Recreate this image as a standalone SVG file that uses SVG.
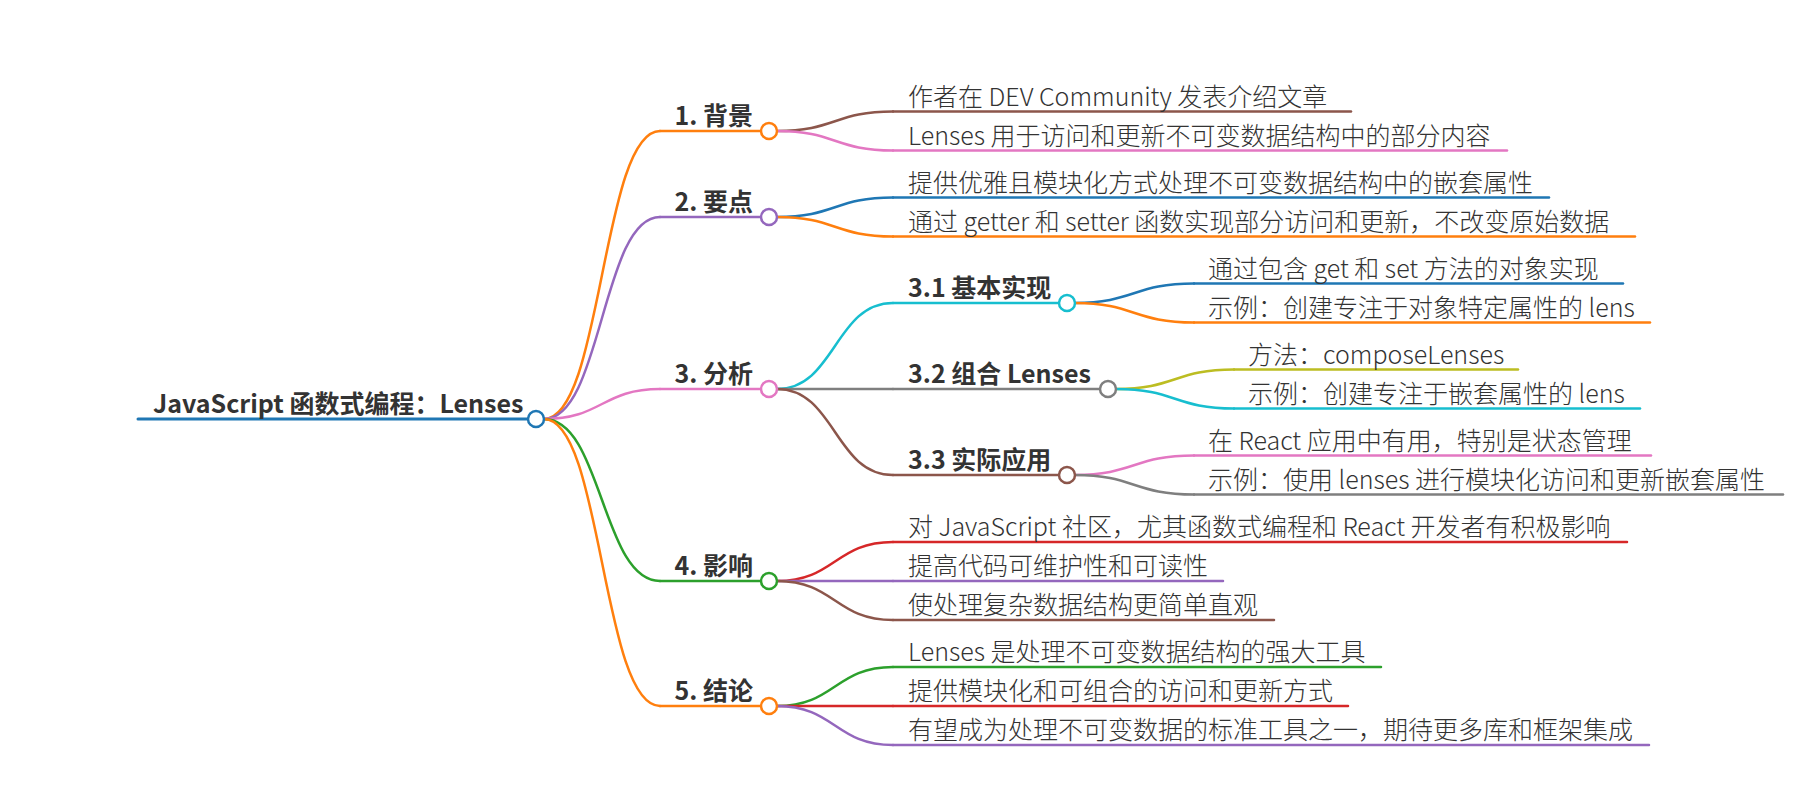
<svg xmlns="http://www.w3.org/2000/svg" width="1800" height="800" viewBox="0 0 1800 800">
<style>
text { font-family: "Noto Sans CJK SC", "Noto Sans", sans-serif; fill: #333; }
.b { font-weight: bold; font-size: 25px; }
.r { font-weight: bold; font-size: 25px; }
.l { font-size: 25px; font-weight: 300; }
.ln { fill: none; stroke-width: 2.5; stroke-linecap: round; }
.dot { fill: #fff; stroke-width: 2.5; }
.c-orange { stroke: #ff7f0e; } .c-purple { stroke: #9467bd; } .c-pink { stroke: #e377c2; }
.c-green { stroke: #2ca02c; } .c-blue { stroke: #1f77b4; } .c-brown { stroke: #8c564b; }
.c-cyan { stroke: #17becf; } .c-gray { stroke: #7f7f7f; } .c-olive { stroke: #bcbd22; } .c-red { stroke: #d62728; }
</style>
<rect width="1800" height="800" fill="#fff"/>
<g id="connectors">
  <path class="ln c-orange" d="M544 419 C602 419 602 131 660 131"/>
  <path class="ln c-purple" d="M544 419 C602 419 602 217 660 217"/>
  <path class="ln c-pink" d="M544 419 C602 419 602 389 660 389"/>
  <path class="ln c-green" d="M544 419 C602 419 602 581 660 581"/>
  <path class="ln c-orange" d="M544 419 C602 419 602 706 660 706"/>
  <path class="ln c-brown" d="M777 131 C835 131 835 111.5 893 111.5"/>
  <path class="ln c-pink" d="M777 131 C835 131 835 150.5 893 150.5"/>
  <path class="ln c-blue" d="M777 217 C835 217 835 197.5 893 197.5"/>
  <path class="ln c-orange" d="M777 217 C835 217 835 236.5 893 236.5"/>
  <path class="ln c-cyan" d="M777 389 C835 389 835 303 893 303"/>
  <path class="ln c-gray" d="M777 389 C835 389 835 389 893 389"/>
  <path class="ln c-brown" d="M777 389 C835 389 835 475 893 475"/>
  <path class="ln c-blue" d="M1075 303 C1134 303 1134 283.5 1194 283.5"/>
  <path class="ln c-orange" d="M1075 303 C1134 303 1134 322.5 1194 322.5"/>
  <path class="ln c-olive" d="M1116 389 C1175 389 1175 369.5 1234 369.5"/>
  <path class="ln c-cyan" d="M1116 389 C1175 389 1175 408.5 1234 408.5"/>
  <path class="ln c-pink" d="M1075 475 C1134 475 1134 455.5 1194 455.5"/>
  <path class="ln c-gray" d="M1075 475 C1134 475 1134 494.5 1194 494.5"/>
  <path class="ln c-red" d="M777 581 C835 581 835 542 893 542"/>
  <path class="ln c-purple" d="M777 581 L893 581"/>
  <path class="ln c-brown" d="M777 581 C835 581 835 620 893 620"/>
  <path class="ln c-green" d="M777 706 C835 706 835 667 893 667"/>
  <path class="ln c-red" d="M777 706 L893 706"/>
  <path class="ln c-purple" d="M777 706 C835 706 835 745 893 745"/>
</g>
<g id="root">
  <line class="ln c-blue" x1="138" y1="419" x2="528" y2="419" style="stroke-width:3"/>
  <text class="r" x="153" y="413">JavaScript 函数式编程：Lenses</text>
  <circle class="dot c-blue" cx="536" cy="419" r="8"/>
</g>
<g id="n1">
  <line class="ln c-orange" x1="660" y1="131" x2="761" y2="131"/>
  <text class="b" x="753" y="125" text-anchor="end">1. 背景</text>
  <circle class="dot c-orange" cx="769" cy="131" r="8"/>
</g>
<g id="n1a"><line class="ln c-brown" x1="893" y1="111.5" x2="1351" y2="111.5"/><text class="l" x="908" y="106">作者在 DEV Community 发表介绍文章</text></g>
<g id="n1b"><line class="ln c-pink" x1="893" y1="150.5" x2="1507" y2="150.5"/><text class="l" x="908" y="145">Lenses 用于访问和更新不可变数据结构中的部分内容</text></g>
<g id="n2">
  <line class="ln c-purple" x1="660" y1="217" x2="761" y2="217"/>
  <text class="b" x="753" y="211" text-anchor="end">2. 要点</text>
  <circle class="dot c-purple" cx="769" cy="217" r="8"/>
</g>
<g id="n2a"><line class="ln c-blue" x1="893" y1="197.5" x2="1549" y2="197.5"/><text class="l" x="908" y="192">提供优雅且模块化方式处理不可变数据结构中的嵌套属性</text></g>
<g id="n2b"><line class="ln c-orange" x1="893" y1="236.5" x2="1635" y2="236.5"/><text class="l" x="908" y="231">通过 getter 和 setter 函数实现部分访问和更新，不改变原始数据</text></g>
<g id="n3">
  <line class="ln c-pink" x1="660" y1="389" x2="761" y2="389"/>
  <text class="b" x="753" y="383" text-anchor="end">3. 分析</text>
  <circle class="dot c-pink" cx="769" cy="389" r="8"/>
</g>
<g id="n31">
  <line class="ln c-cyan" x1="893" y1="303" x2="1059" y2="303"/>
  <text class="b" x="908" y="297">3.1 基本实现</text>
  <circle class="dot c-cyan" cx="1067" cy="303" r="8"/>
</g>
<g id="n31a"><line class="ln c-blue" x1="1194" y1="283.5" x2="1623" y2="283.5"/><text class="l" x="1208" y="278">通过包含 get 和 set 方法的对象实现</text></g>
<g id="n31b"><line class="ln c-orange" x1="1194" y1="322.5" x2="1650" y2="322.5"/><text class="l" x="1208" y="317">示例：创建专注于对象特定属性的 lens</text></g>
<g id="n32">
  <line class="ln c-gray" x1="893" y1="389" x2="1100" y2="389"/>
  <text class="b" x="908" y="383">3.2 组合 Lenses</text>
  <circle class="dot c-gray" cx="1108" cy="389" r="8"/>
</g>
<g id="n32a"><line class="ln c-olive" x1="1234" y1="369.5" x2="1518" y2="369.5"/><text class="l" x="1248" y="364">方法：composeLenses</text></g>
<g id="n32b"><line class="ln c-cyan" x1="1234" y1="408.5" x2="1640" y2="408.5"/><text class="l" x="1248" y="403">示例：创建专注于嵌套属性的 lens</text></g>
<g id="n33">
  <line class="ln c-brown" x1="893" y1="475" x2="1059" y2="475"/>
  <text class="b" x="908" y="469">3.3 实际应用</text>
  <circle class="dot c-brown" cx="1067" cy="475" r="8"/>
</g>
<g id="n33a"><line class="ln c-pink" x1="1194" y1="455.5" x2="1651" y2="455.5"/><text class="l" x="1208" y="450">在 React 应用中有用，特别是状态管理</text></g>
<g id="n33b"><line class="ln c-gray" x1="1194" y1="494.5" x2="1783" y2="494.5"/><text class="l" x="1208" y="489">示例：使用 lenses 进行模块化访问和更新嵌套属性</text></g>
<g id="n4">
  <line class="ln c-green" x1="660" y1="581" x2="761" y2="581"/>
  <text class="b" x="753" y="575" text-anchor="end">4. 影响</text>
  <circle class="dot c-green" cx="769" cy="581" r="8"/>
</g>
<g id="n4a"><line class="ln c-red" x1="893" y1="542" x2="1627" y2="542"/><text class="l" x="908" y="536">对 JavaScript 社区，尤其函数式编程和 React 开发者有积极影响</text></g>
<g id="n4b"><line class="ln c-purple" x1="893" y1="581" x2="1223" y2="581"/><text class="l" x="908" y="575">提高代码可维护性和可读性</text></g>
<g id="n4c"><line class="ln c-brown" x1="893" y1="620" x2="1274" y2="620"/><text class="l" x="908" y="614">使处理复杂数据结构更简单直观</text></g>
<g id="n5">
  <line class="ln c-orange" x1="660" y1="706" x2="761" y2="706"/>
  <text class="b" x="753" y="700" text-anchor="end">5. 结论</text>
  <circle class="dot c-orange" cx="769" cy="706" r="8"/>
</g>
<g id="n5a"><line class="ln c-green" x1="893" y1="667" x2="1381" y2="667"/><text class="l" x="908" y="661">Lenses 是处理不可变数据结构的强大工具</text></g>
<g id="n5b"><line class="ln c-red" x1="893" y1="706" x2="1348" y2="706"/><text class="l" x="908" y="700">提供模块化和可组合的访问和更新方式</text></g>
<g id="n5c"><line class="ln c-purple" x1="893" y1="745" x2="1649" y2="745"/><text class="l" x="908" y="739">有望成为处理不可变数据的标准工具之一，期待更多库和框架集成</text></g>
</svg>
